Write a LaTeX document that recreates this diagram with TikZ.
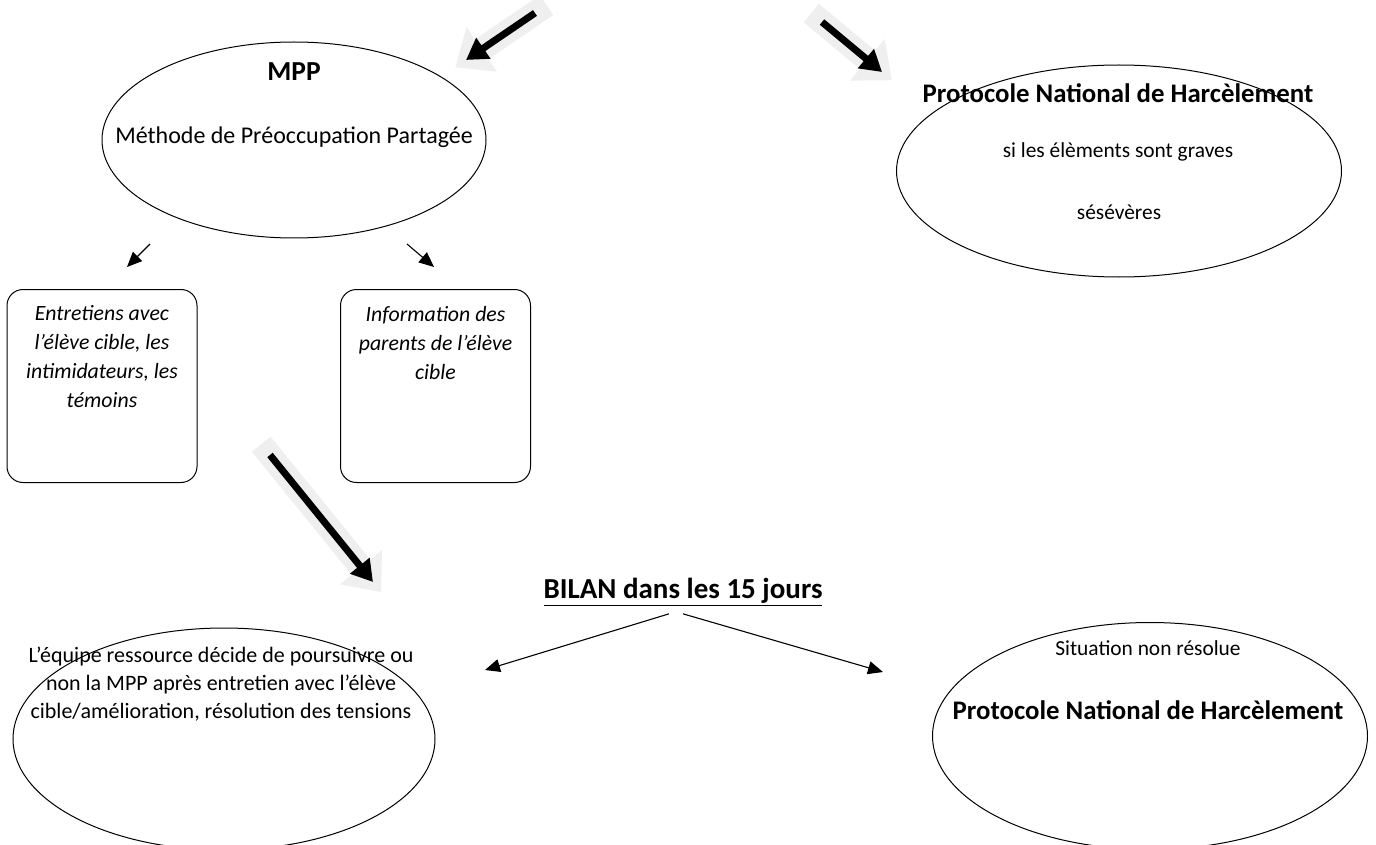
\documentclass[tikz,border=0pt]{standalone}
\usepackage{fontspec}
\setmainfont{Carlito}
\usepackage{xcolor}
\usepackage{tikz}
\usetikzlibrary{calc, arrows.meta, positioning, shapes.geometric}
\definecolor{glowgray}{HTML}{EFEFEF}

\begin{document}
\begin{tikzpicture}[x=1pt, y=-1pt,
    bubble/.style={ellipse, draw=black, line width=1pt, inner sep=0pt},
    card/.style={rectangle, rounded corners=16pt, draw=black, line width=1pt, minimum width=190pt, minimum height=193pt, inner sep=0pt},
    txt/.style={inner sep=0pt, align=center, font=\fontsize{21.5}{29}\selectfont},
    cardtxt/.style={inner sep=0pt, align=center, font=\itshape\fontsize{21.8}{29}\selectfont},
    heading/.style={inner sep=0pt, font=\bfseries\fontsize{26.8}{32}\selectfont},
    pointer/.style={line width=1.1pt, -{Triangle[length=15pt,width=13pt]}},
    glow/.style={line width=24pt, glowgray, -{Triangle[length=32pt,width=52pt]}, shorten <=-14pt, shorten >=-13pt},
    heavy/.style={line width=7pt, black, -{Triangle[length=21pt,width=24pt]}}]

        \useasboundingbox (0,0) rectangle (1376,845);
        \clip (0,0) rectangle (1376,845);

        %% Ellipses
        \node (mpp) [bubble, minimum width=384pt, minimum height=196pt] at (294,140) {};
        \node (pnhTop) [bubble, minimum width=445pt, minimum height=212pt] at (1119,171) {};
        \node (equipe) [bubble, minimum width=422pt, minimum height=222pt] at (224,739) {};
        \node (pnhBottom) [bubble, minimum width=435pt, minimum height=227pt] at (1150,736) {};

        %% Boxes
        \node (entretiens) [card] at (102,386) {};
        \node (information) [card] at (435.5,386) {};

        %% MPP
        \node (mppTitle) [inner sep=0pt, font=\bfseries\fontsize{27.5}{32}\selectfont] at (294,72) {MPP};
        \node (mppName) [inner sep=0pt, font=\fontsize{24}{28}\selectfont] at (294,137) {Méthode de Préoccupation Partagée};

        %% Protocole (top)
        \node (pnhTopTitle) [heading] at (1118,93) {Protocole National de Harcèlement};
        \node (graves) [txt, font=\fontsize{21.4}{29}\selectfont] at (1118,152) {si les élèments sont graves};
        \node (severes) [txt, font=\fontsize{21.4}{29}\selectfont] at (1119,212) {sésévères};

        %% Box texts
        \node (entretiensTxt) [cardtxt] at (102,357) {Entretiens avec\\l’élève cible, les\\intimidateurs, les\\témoins};
        \node (informationTxt) [cardtxt] at (435.5,343) {Information des\\parents de l’élève\\cible};

        %% Bilan
        \node (bilan) [inner sep=0pt, font=\bfseries\fontsize{29}{34}\selectfont] at (683,592) {\underline{BILAN dans les 15 jours}};
        \node (equipeTxt) [txt, font=\fontsize{22}{28}\selectfont] at (221,684) {L’équipe ressource décide de poursuivre ou\\non la MPP après entretien avec l’élève\\cible/amélioration, résolution des tensions};
        \node (nonResolue) [txt, font=\fontsize{21.4}{28}\selectfont] at (1148,648) {Situation non résolue};
        \node (pnhBottomTitle) [heading] at (1148,710) {Protocole National de Harcèlement};

        %% Arrow ends
        \coordinate (mppInStart) at (535,13);
        \coordinate (mppInEnd) at (466,60);
        \coordinate (pnhInStart) at (822,22);
        \coordinate (pnhInEnd) at (882,72);
        \coordinate (bilanInStart) at (270,455);
        \coordinate (bilanInEnd) at (373,582);
        \coordinate (toEntretiensStart) at (150,244);
        \coordinate (toEntretiens) at (127,267);
        \coordinate (toInformationStart) at (407,244);
        \coordinate (toInformation) at (434,267);
        \coordinate (toEquipe) at (485,670);
        \coordinate (toPnh) at (883,672);

        %% Big arrows
        \draw [glow] (mppInStart) -- (mppInEnd);
        \draw [heavy] (mppInStart) -- (mppInEnd);
        \draw [glow] (pnhInStart) -- (pnhInEnd);
        \draw [heavy] (pnhInStart) -- (pnhInEnd);
        \draw [glow] (bilanInStart) -- (bilanInEnd);
        \draw [heavy] (bilanInStart) -- (bilanInEnd);

        %% Small arrows
        \draw [pointer] (toEntretiensStart) -- (toEntretiens);
        \draw [pointer] (toInformationStart) -- (toInformation);
        \draw [pointer] ($(bilan.south) + (-14,8)$) -- (toEquipe);
        \draw [pointer] ($(bilan.south) + (0,8)$) -- (toPnh);

\end{tikzpicture}
\end{document}
